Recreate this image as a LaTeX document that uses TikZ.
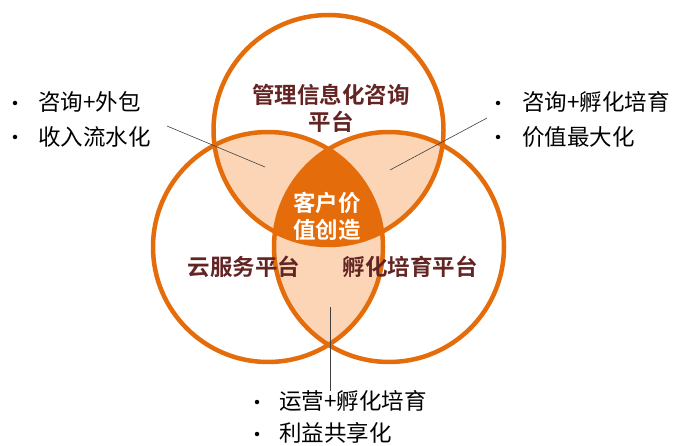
\documentclass[tikz,border=0pt]{standalone}
\usepackage{fontspec}
\setmainfont{Noto Sans CJK SC}[BoldFont={Noto Sans CJK SC Bold}]
\usetikzlibrary{positioning}
\definecolor{venorange}{HTML}{E46C0A}
\definecolor{venlight}{HTML}{FBD5B5}
\definecolor{venbrown}{HTML}{632523}
\tikzset{
  ring/.style={draw=venorange, line width=4.5pt},
  platform/.style={font=\fontsize{22.5}{27}\selectfont\bfseries, text=venbrown, align=center, inner sep=0pt},
  core/.style={font=\fontsize{22.5}{27}\selectfont\bfseries, text=white, align=center, inner sep=0pt},
  item/.style={font=\fontsize{22.5}{27}\selectfont, anchor=west, inner sep=0pt},
  bulletdot/.style={circle, fill=black, inner sep=0pt, minimum size=4.5pt},
  leader/.style={draw=black!75, line width=0.6pt}
}
\begin{document}
\begin{tikzpicture}[x=1pt, y=-1pt]
\useasboundingbox (0,0) rectangle (676,446);
% circle centres
\coordinate (ctop) at (328.5,130);
\coordinate (cleft) at (268,247);
\coordinate (cright) at (389,247);
% overlaps
\begin{scope}
\clip (ctop) circle[radius=115pt];
\fill[venlight] (cleft) circle[radius=115pt];
\fill[venlight] (cright) circle[radius=115pt];
\end{scope}
\begin{scope}
\clip (cleft) circle[radius=115pt];
\fill[venlight] (cright) circle[radius=115pt];
\end{scope}
\begin{scope}
\clip (ctop) circle[radius=115pt];
\clip (cleft) circle[radius=115pt];
\fill[venorange] (cright) circle[radius=115pt];
\end{scope}
% rings
\draw[ring] (ctop) circle[radius=115pt];
\draw[ring] (cleft) circle[radius=115pt];
\draw[ring] (cright) circle[radius=115pt];
% platform labels
\node[platform] (mgmt) at (331,108) {管理信息化咨询\\平台};
\node[core] (value) at (327,216) {客户价\\值创造};
\node[platform] (cloud) at (244,267) {云服务平台};
\node[platform] (incub) at (410,267) {孵化培育平台};
% left list
\node[bulletdot] (ldota) at (15,103) {};
\node[item] (lefta) at (38,102) {咨询+外包};
\node[bulletdot] (ldotb) at (15,137) {};
\node[item] (leftb) at (38,137) {收入流水化};
% right list
\node[bulletdot] (rdota) at (498,103) {};
\node[item] (righta) at (522,102) {咨询+孵化培育};
\node[bulletdot] (rdotb) at (498,137) {};
\node[item] (rightb) at (522,137) {价值最大化};
% bottom list
\node[bulletdot] (bdota) at (257,402) {};
\node[item] (bottoma) at (279,401) {运营+孵化培育};
\node[bulletdot] (bdotb) at (257,434) {};
\node[item] (bottomb) at (279,433) {利益共享化};
% leader lines
\coordinate (lstart) at (167,126);
\coordinate (lend) at (265,167);
\coordinate (rstart) at (487,118);
\coordinate (rend) at (390,170);
\coordinate (bstart) at (330,391);
\coordinate (bend) at (330,307);
\draw[leader] (lstart) -- (lend);
\draw[leader] (rstart) -- (rend);
\draw[leader] (bstart) -- (bend);
\end{tikzpicture}
\end{document}
